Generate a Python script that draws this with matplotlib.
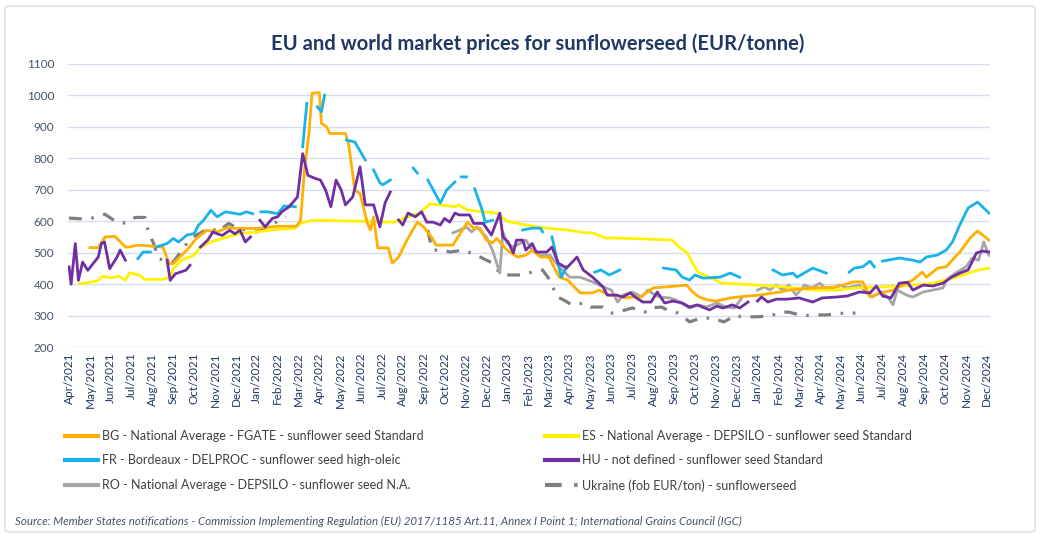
import numpy as np
import pandas as pd
import matplotlib
matplotlib.use("Agg")
import matplotlib.pyplot as plt
from matplotlib.lines import Line2D
from matplotlib.patches import FancyBboxPatch

plt.rcParams['font.family'] = ['Lato', 'DejaVu Sans']

nan = np.nan

# x values = months elapsed since 1 April 2021 (weekly quotes)
bg_t = [1.0, 1.4, 1.73, 2.2, 2.7, 2.9, 3.17, 3.6, 4.4, 4.5, 4.8, 5.0, 5.3, 5.65, 6.1, 6.6, 7.1, 7.6, 8.0, 9.0,
        10.0, 10.9, 11.1, 11.3, 11.5, 11.65, 12.0, 12.1, 12.35, 12.5, 13.25, 13.4, 13.7, 13.95, 14.3, 14.45, 14.6,
        14.8, 15.3, 15.5, 15.8, 16.2, 16.7, 17.0, 17.4, 17.6, 18.4, 18.65, 19.1, 19.4, 19.7, 20.0, 20.3, 20.5,
        21.0, 21.5, 21.9, 22.2, 22.6, 23.0, 23.5, 23.9, 24.5, 25.1, 25.4, 25.9, 26.2, 26.7, 27.0, 27.4, 28.0,
        29.0, 29.6, 29.9, 30.2, 30.6, 31.0, 31.7, 32.5, 33.1, 34.1, 34.5, 35.7, 36.8, 37.6, 38.05, 38.4, 38.9,
        39.5, 40.15, 40.45, 40.9, 41.1, 41.65, 42.05, 42.7, 43.2, 43.55, 44.1]
bg_v = [516, 516, 550, 552, 518, 518, 523, 523, 518, 518, 465, 465, 486, 508, 545, 571, 566, 580, 577, 577,
        584, 584, 603, 773, 879, 1007, 1009, 911, 900, 879, 879, 847, 699, 688, 594, 572, 613,
        515, 515, 467, 486, 540, 597, 582, 547, 524, 524, 550, 597, 578, 578, 540, 531, 545,
        508, 486, 492, 508, 486, 486, 422, 413, 372, 372, 381, 365, 365, 356, 359, 359, 388,
        393, 397, 375, 359, 350, 346, 356, 362, 365, 375, 381, 388, 391, 407, 407, 359, 372,
        381, 403, 413, 438, 422, 451, 455, 502, 547, 569, 540]

es_t = [0.5, 1.0, 1.4, 1.6, 2.0, 2.4, 2.7, 2.9, 3.4, 3.6, 4.5, 4.85, 5.0, 5.4, 6.0, 6.3, 6.8, 7.6, 8.2, 9.0,
        10.0, 10.8, 11.1, 11.65, 12.0, 14.0, 15.3, 15.6, 16.2, 16.8, 17.3, 17.8, 18.5, 18.65, 19.1, 19.8, 20.5,
        21.0, 21.9, 22.9, 23.9, 24.8, 25.1, 25.7, 27.0, 28.9, 29.3, 29.6, 29.9, 30.15, 30.7, 31.3, 33.0, 34.5,
        35.7, 36.8, 37.7, 38.9, 40.5, 41.4, 42.05, 42.85, 43.6, 44.1]
es_v = [401, 406, 412, 425, 420, 425, 412, 436, 428, 415, 415, 423, 449, 476, 492, 518, 534, 550, 561, 566,
        574, 577, 593, 603, 603, 600, 597, 597, 613, 626, 655, 652, 646, 652, 636, 630, 626,
        600, 588, 578, 572, 563, 563, 547, 545, 540, 515, 502, 467, 438, 422, 403, 397, 390,
        381, 381, 388, 391, 397, 403, 413, 429, 445, 451]

fr_t = [3.3, 3.55, 3.9, 4.05, 4.2, 4.7, 5.0, 5.25, 5.65, 6.0, 6.2, 6.45, 6.8, 7.1, 7.5, 8.2, 8.5, 8.8, 9.0,
        9.2, 9.5, 10.0, 10.3, 10.6, 10.85, 11.0, 11.2, 11.4, 11.6, 11.9, 12.1, 12.25, 12.8, 13.3, 13.7, 14.2, 14.4,
        14.6, 14.9, 15.05, 15.4, 16.0, 16.5, 16.7, 16.9, 17.2, 17.8, 18.1, 18.5, 18.65, 18.8, 19.05, 19.25,
        19.45, 19.8, 19.95, 20.3, 21.0, 21.75, 22.2, 22.6, 22.7, 22.9, 23.15, 23.4, 23.6, 23.85, 24.5,
        25.2, 25.5, 25.9, 26.4, 27.5, 28.5, 29.1, 29.4, 29.75, 30.0, 30.4, 31.2, 31.7, 32.15, 33.0,
        33.75, 34.2, 34.7, 34.9, 35.65, 36.3, 36.9, 37.4, 37.65, 38.05, 38.4, 38.6, 38.8,
        39.0, 39.8, 40.45, 40.8, 41.1, 41.6, 42.05, 42.35, 42.7, 43.1, 43.55, 44.1]
fr_v = [481, 502, 502, nan, 518, 529, 545, 534, 556, 561, 587, 603, 635, 614, 630, 622, 630, 624, nan,
        630, 630, 624, 648, 648, 646, nan, 837, 975, nan, 964, 948, 1001, nan, 858, 852, 795, nan,
        763, 722, 716, 731, nan, 769, 753, nan, 731, 658, 699, 725, nan, 741, 741, nan,
        703, 636, 597, 603, nan, 572, 578, 578, 566, nan, 550, 477, 422, 455, nan,
        438, 445, 429, 445, nan, 451, 445, 422, 413, 429, 419, 422, 435, 422, nan,
        445, 429, 435, 422, 451, 435, nan, 438, 451, 455, 473, 455, nan,
        473, 483, 476, 470, 486, 492, 508, 534, 588, 642, 661, 626]

hu_t = [0.0, 0.1, 0.3, 0.45, 0.65, 0.9, 1.4, 1.55, 1.7, 1.95, 2.3, 2.45, 2.7, 3.5, 4.7, 4.85, 5.1, 5.6, 5.8,
        6.0, 6.3, 6.65, 6.9, 7.1, 7.35, 7.7, 7.95, 8.2, 8.45, 8.7, 8.9, 9.15, 9.4, 9.75, 10.0, 10.2, 10.55,
        10.95, 11.2, 11.45, 11.8, 12.05, 12.3, 12.55, 12.8, 13.05, 13.25, 13.6, 13.95, 14.2, 14.6, 14.9,
        15.15, 15.4, 15.6, 15.8, 16.0, 16.25, 16.6, 16.9, 17.15, 17.45, 17.8, 18.0, 18.25, 18.5, 18.7, 19.2,
        19.4, 19.85, 20.25, 20.65, 20.8, 21.05, 21.3, 21.45, 21.75, 21.9, 22.2, 22.4, 22.9, 23.15, 23.45,
        23.85, 24.35, 24.65, 25.1, 25.6, 25.8, 26.25, 26.55, 26.9, 27.2, 27.5, 27.9, 28.2, 28.55, 28.95,
        29.4, 29.75, 30.1, 30.7, 31.05, 31.35, 31.8, 32.15, 32.55, 32.8, 33.0, 33.2, 33.5, 33.9, 34.4,
        35.0, 35.35, 35.65, 36.1, 36.8, 37.3, 37.9, 38.4, 38.7, 39.0, 39.4, 39.8, 40.2, 40.45, 40.95,
        41.4, 41.9, 42.3, 42.7, 43.1, 43.5, 43.8, 44.1]
hu_v = [455, 400, 529, 412, 470, 444, 486, 529, 534, 449, 486, 508, 476, nan, 476, 412, 433, 444, 460,
        nan, 518, 540, 566, 560, 555, 571, 560, 571, 534, 550, nan, 603, 582, 609, 614, 630, 646,
        677, 815, 746, 736, 731, 699, 646, 731, 699, 652, 677, 773, 652, 652, 582,
        658, 693, nan, 604, 588, 626, 614, 630, 597, 597, 588, 609, 597, 626, 620, 620,
        593, 593, 556, 626, 550, 534, 499, 540, 540, 508, 529, 502, 502, 518, 467,
        451, 486, 445, 422, 391, 365, 365, 359, 372, 356, 343, 343, 375, 340, 346,
        340, 327, 334, 318, 330, 324, 334, 324, 343, nan, 346, 359, 343, 352, 352,
        356, 349, 343, 356, 359, 362, 375, 372, 394, 362, 356, 403, 406, 381, 397,
        394, 403, 422, 435, 445, 499, 505, 502]

ro_t = [18.4, 18.75, 19.05, 19.3, 19.55, 20.0, 20.3, 20.65, 20.8, 21.0, 21.3, 21.6, 21.9, 22.2, 22.6, 23.05,
        23.5, 24.0, 24.5, 25.1, 25.6, 26.0, 26.3, 26.55, 27.0, 27.45, 27.75, 28.1, 28.3, 28.8, 29.1, 29.75,
        30.2, 30.55, 31.05, 31.5, 31.9, 32.25, 32.6, 33.0, 33.35, 33.6, 33.9, 34.2, 34.5, 34.85, 35.25, 35.6,
        36.0, 36.35, 36.95, 37.3, 37.9, 38.2, 38.5, 38.9, 39.25, 39.5, 39.7, 40.15, 40.45, 40.95, 41.4,
        41.9, 42.05, 42.5, 43.0, 43.3, 43.6, 43.85, 44.1]
ro_v = [563, 572, 582, 566, 582, 550, 508, 435, 566, 529, 518, 529, 540, 508, 492, 492,
        455, 422, 422, 407, 391, 381, 343, 365, 375, 359, 381, 365, 359, 356, 349, 324,
        334, 327, 340, 327, 324, 356, nan, 381, 391, 381, 397, 381, 397, 365, 397, 388,
        403, 381, 397, 388, 397, 375, 359, 375, 359, 334, 381, 365, 359, 375, 381,
        388, 413, 435, 455, 483, 476, 534, 492]

ua_t = [0.0, 0.5, 1.0, 1.73, 2.3, 2.77, 3.17, 3.65, 3.8, 4.05, 4.3, 4.7, 5.0, 5.65, 6.1, 6.8, 7.1, 7.65, 8.1,
        9.0, 9.65, 10.4, 13.0, 17.2, 17.3, 17.45, 18.0, 18.25, 18.9, 19.5, 19.8, 20.3, 20.65, 21.1, 21.7,
        22.2, 22.7, 23.05, 23.4, 23.7, 24.1, 24.7, 25.0, 25.6, 26.0, 26.3, 27.0, 27.6, 27.8, 28.4, 28.9,
        29.2, 29.75, 30.3, 30.8, 31.4, 32.0, 32.2, 33.0, 33.6, 34.2, 34.5, 35.2, 35.7, 36.3, 37.2, 37.7]
ua_v = [610, 608, 608, 622, 596, 594, 612, 612, 566, 530, 480, 476, 470, 530, 556, 580, 566, 593, 577,
        566, 587, 614, nan, 572, 540, 508, 508, 502, 508, 493, 483, 467, 435, 429, 429,
        438, 445, 413, 359, 350, 334, 340, 327, 327, 308, 311, 324, 311, 324, 327, 311,
        308, 280, 292, 292, 280, 302, 296, 296, 299, 311, 311, 299, 302, 302, 308, 308]

months = pd.date_range('2021-04-01', '2024-12-01', freq='MS')
month_labels = [m.strftime('%b/%Y') for m in months]

labels = {
    'bg': 'BG - National Average - FGATE - sunflower seed Standard',
    'es': 'ES - National Average - DEPSILO - sunflower seed Standard',
    'fr': 'FR - Bordeaux - DELPROC - sunflower seed high-oleic',
    'hu': 'HU - not defined - sunflower seed Standard',
    'ro': 'RO - National Average - DEPSILO - sunflower seed N.A.',
    'ua': 'Ukraine (fob EUR/ton) - sunflowerseed',
}
colors = {'bg': '#FFB000', 'es': '#FFF200', 'fr': '#1AB2EA', 'hu': '#7030A0',
          'ro': '#A6A6A6', 'ua': '#7F7F7F'}
ua_dash = (0, (4, 3, 0.8, 3))

fig = plt.figure(figsize=(10.42, 5.37), dpi=100)
ax = fig.add_axes([68 / 1042, 1 - 347 / 537, (990 - 68) / 1042, (347 - 64) / 537])

lw = 2.0
ax.plot(ua_t, ua_v, color=colors['ua'], lw=2.3, ls=ua_dash, zorder=2)
ax.plot(ro_t, ro_v, color=colors['ro'], lw=lw, zorder=3)
ax.plot(es_t, es_v, color=colors['es'], lw=lw, zorder=3)
ax.plot(bg_t, bg_v, color=colors['bg'], lw=lw, zorder=4)
ax.plot(fr_t, fr_v, color=colors['fr'], lw=lw, zorder=4)
ax.plot(hu_t, hu_v, color=colors['hu'], lw=lw, zorder=5)

ax.set_ylim(200, 1100)
ax.set_yticks(range(200, 1101, 100))
ax.set_xlim(-0.05, 44.15)
ax.set_xticks(range(len(months)))
ax.set_xticklabels(month_labels, rotation=90, fontsize=8.5, color='#203864')
ax.tick_params(axis='y', labelsize=8.5, labelcolor='#44546A', length=0, pad=10)
ax.tick_params(axis='x', length=0, pad=4)
for s in ax.spines.values():
    s.set_visible(False)
ax.yaxis.grid(True, color='#D6DEEE', lw=1)
ax.set_axisbelow(True)

fig.text(538 / 1042, 1 - 44 / 537, 'EU and world market prices for sunflowerseed (EUR/tonne)',
         ha='center', va='center', fontsize=14.5, fontweight='bold', color='#1F3864')

def handle(key):
    if key == 'ua':
        return Line2D([], [], color=colors[key], lw=3, ls=ua_dash)
    return Line2D([], [], color=colors[key], lw=3)

for keys, x0 in ((['bg', 'fr', 'ro'], 65), (['es', 'hu', 'ua'], 545)):
    leg = fig.legend([handle(k) for k in keys], [labels[k] for k in keys],
                     loc='upper left', bbox_to_anchor=(x0 / 1042, 1 - 430 / 537),
                     frameon=False, fontsize=9, handlelength=2.6, handletextpad=0.35,
                     labelspacing=1.0, borderaxespad=0, borderpad=0)
    for t in leg.get_texts():
        t.set_color('#404040')

fig.text(15 / 1042, 1 - 521 / 537,
         'Source: Member States notifications - Commission Implementing Regulation (EU) 2017/1185 Art.11, '
         'Annex I Point 1; International Grains Council (IGC)',
         ha='left', va='center', fontsize=8.3, style='italic', color='#44546A')

border = FancyBboxPatch((5 / 1042, 5 / 537), 1030 / 1042, 526 / 537, boxstyle='round,pad=0,rounding_size=0.005',
                        transform=fig.transFigure, fill=False, edgecolor='#DCDCDC', lw=1)
fig.patches.append(border)

fig.savefig('out.png', dpi=100)
